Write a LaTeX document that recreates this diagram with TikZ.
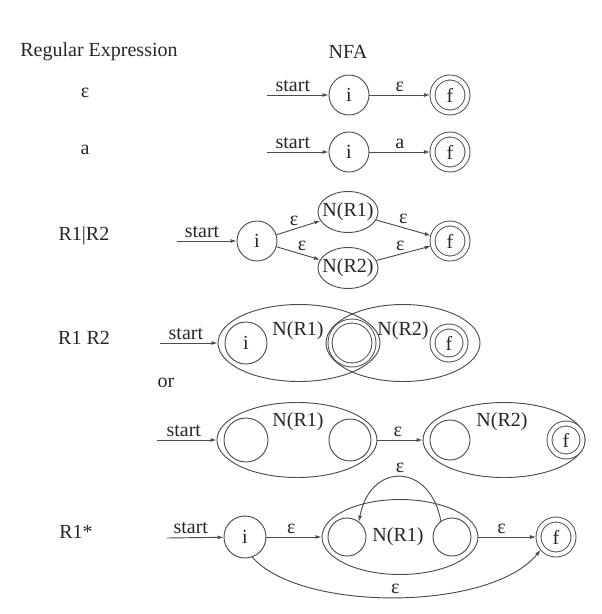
\documentclass[tikz,border=0pt]{standalone}
\usepackage{fontspec}
\setmainfont{Liberation Serif}
\usetikzlibrary{arrows.meta,shapes.geometric}
\begin{document}
\begin{tikzpicture}[x=0.75pt,y=-0.75pt,
  every node/.style={font=\fontsize{15}{18}\selectfont, text=black!85},
  ln/.style={draw=black!70, line width=0.7pt},
  st/.style={circle, ln, inner sep=0pt, minimum size=#1*1.5pt},
  acc/.style={circle, ln, double, inner sep=0pt, minimum size=26.25pt, double distance=3.05pt, outer sep=1.9pt},
  accs/.style={circle, ln, double, inner sep=0pt, minimum size=24.75pt, double distance=3.05pt, outer sep=1.9pt},
  dbl/.style={circle, ln, double, inner sep=0pt, minimum size=33pt, double distance=2.3pt, outer sep=1.5pt},
  ell/.style 2 args={ellipse, ln, inner sep=0pt, minimum width=#1*0.75pt, minimum height=#2*0.75pt},
  arr/.style={ln, -{Latex[length=4.5pt,width=3pt]}},
  lab/.style={above, inner sep=2.5pt},
  txt/.style={inner sep=0pt}
]
\useasboundingbox (0,0) rectangle (601,614);

% headers
\node[txt] (hre) at (99,52) {Regular Expression};
\node[txt] (hnfa) at (348,52) {NFA};

% row 1
\node[txt] (re1) at (85,93) {ε};
\coordinate (s1) at (267,95);
\node[st=20] (i1) at (349,95) {i};
\node[acc] (f1) at (450,95) {f};
\draw[arr] (s1) -- node[lab,pos=0.42]{start} (i1);
\draw[arr] (i1) -- node[lab]{ε} (f1);

% row 2
\node[txt] (re2) at (85,150) {a};
\coordinate (s2) at (267,152);
\node[st=20] (i2) at (349,152) {i};
\node[acc] (f2) at (450,152) {f};
\draw[arr] (s2) -- node[lab,pos=0.42]{start} (i2);
\draw[arr] (i2) -- node[lab]{a} (f2);

% row 3
\node[txt] (re3) at (84,236) {R1|R2};
\coordinate (s3) at (177,241);
\node[st=20] (i3) at (257,241) {i};
\node[ell={60}{41}] (r3a) at (348,212) {};
\node[txt] (l3a) at (348,212) {N(R1)};
\node[ell={60}{41}] (r3b) at (348,268) {};
\node[txt] (l3b) at (348,268) {N(R2)};
\node[acc] (f3) at (450,241) {f};
\draw[arr] (s3) -- node[lab,pos=0.42]{start} (i3);
\draw[arr] (i3) -- node[lab,pos=0.4]{ε} (r3a);
\draw[arr] (i3) -- node[lab,pos=0.45,above right,inner sep=1pt]{ε} (r3b);
\draw[arr] (r3a) -- node[lab]{ε} (f3);
\draw[arr] (r3b) -- node[lab,pos=0.55,above left,inner sep=1pt]{ε} (f3);

% row 4
\node[txt] (re4) at (84,338) {R1 R2};
\coordinate (s4) at (160,343);
\node[ell={162}{77}] (e4a) at (299,343) {};
\node[ell={154}{77}] (e4b) at (403,343) {};
\node[st=21] (i4) at (246,343) {i};
\node[dbl] (m4) at (352,343) {};
\node[accs] (f4) at (449,343) {f};
\node[txt] (l4a) at (298,331) {N(R1)};
\node[txt] (l4b) at (403,331) {N(R2)};
\draw[arr] (s4) -- node[lab,pos=0.45]{start} (e4a);

\node[txt] (or) at (166,383) {or};

% row 5
\coordinate (s5) at (157,440);
\node[ell={160}{75}] (e5a) at (297,440) {};
\node[st=22] (c5a) at (246,440) {};
\node[st=21] (c5b) at (350,440) {};
\node[txt] (l5a) at (298,422) {N(R1)};
\node[ell={162}{75}] (e5b) at (504,440) {};
\node[st=20] (c5c) at (450,440) {};
\node[txt] (l5b) at (502,422) {N(R2)};
\node[accs] (f5) at (566,440) {f};
\draw[arr] (s5) -- node[lab,pos=0.45]{start} (e5a);
\draw[arr] (e5a) -- node[lab,pos=0.45]{ε} (e5b);

% row 6
\node[txt] (re6) at (76,532) {R1*};
\coordinate (s6) at (167,538);
\node[st=21] (i6) at (245,537) {i};
\node[ell={156}{75}] (e6) at (400,537) {};
\node[st=19] (c6a) at (347,537) {};
\node[st=19] (c6b) at (452,537) {};
\node[txt] (l6) at (398,537) {N(R1)};
\node[acc] (f6) at (556,537) {f};
\draw[arr] (s6) -- node[lab,pos=0.42]{start} (i6);
\draw[arr] (i6) -- node[lab,pos=0.45]{ε} (e6);
\draw[arr] (e6) -- node[lab,pos=0.4]{ε} (f6);
\draw[arr] (c6b.125) .. controls (430,462) and (370,462) .. node[lab]{ε} (c6a.52);
\draw[arr] (i6.-70) .. controls (300,612) and (490,612) .. node[lab]{ε} (f6.-140);
\end{tikzpicture}
\end{document}
